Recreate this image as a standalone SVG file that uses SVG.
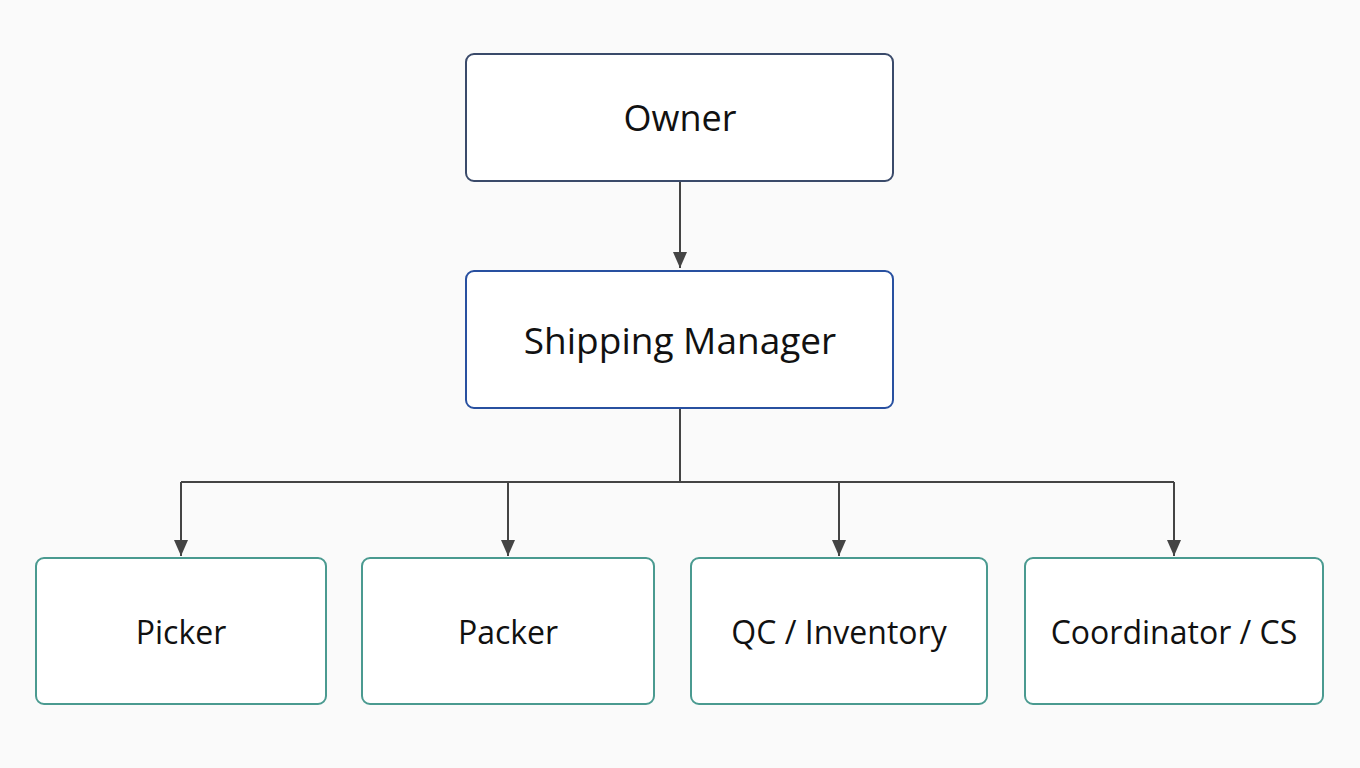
<svg xmlns="http://www.w3.org/2000/svg" width="1360" height="768" viewBox="0 0 1360 768">
<style>
.n{fill:#fff;stroke-width:2}
.t{font-family:"Open Sans","Noto Sans",sans-serif;fill:#111;text-anchor:middle;dominant-baseline:central}
.s{font-size:32px}
.c{fill:none;stroke:#444;stroke-width:2}
</style>
<defs><marker id="b" markerWidth="16" markerHeight="14" refX="16" refY="7" orient="auto" markerUnits="userSpaceOnUse"><path d="M0,0L16,7L0,14z" fill="#444"/></marker></defs>
<rect width="1360" height="768" fill="#fafafa"/>
<g id="connectors">
<path class="c" d="M680,182V268" marker-end="url(#b)"/>
<path class="c" d="M680,409V482M181,482H1174"/>
<path class="c" d="M181,482V556" marker-end="url(#b)"/>
<path class="c" d="M508,482V556" marker-end="url(#b)"/>
<path class="c" d="M839,482V556" marker-end="url(#b)"/>
<path class="c" d="M1174,482V556" marker-end="url(#b)"/>
</g>
<g id="owner"><rect class="n" x="466" y="54" width="427" height="127" rx="8" stroke="#3a4a6a"/><text class="t" x="680" y="117" font-size="36">Owner</text></g>
<g id="manager"><rect class="n" x="466" y="271" width="427" height="137" rx="8" stroke="#2850a0"/><text class="t" x="680" y="339" font-size="37">Shipping Manager</text></g>
<g id="picker"><rect class="n" x="36" y="558" width="290" height="146" rx="8" stroke="#4a9a90"/><text class="t s" x="181" y="631">Picker</text></g>
<g id="packer"><rect class="n" x="362" y="558" width="292" height="146" rx="8" stroke="#4a9a90"/><text class="t s" x="508" y="631">Packer</text></g>
<g id="qc"><rect class="n" x="691" y="558" width="296" height="146" rx="8" stroke="#4a9a90"/><text class="t s" x="839" y="631">QC / Inventory</text></g>
<g id="coord"><rect class="n" x="1025" y="558" width="298" height="146" rx="8" stroke="#4a9a90"/><text class="t s" x="1174" y="631">Coordinator / CS</text></g>
</svg>
